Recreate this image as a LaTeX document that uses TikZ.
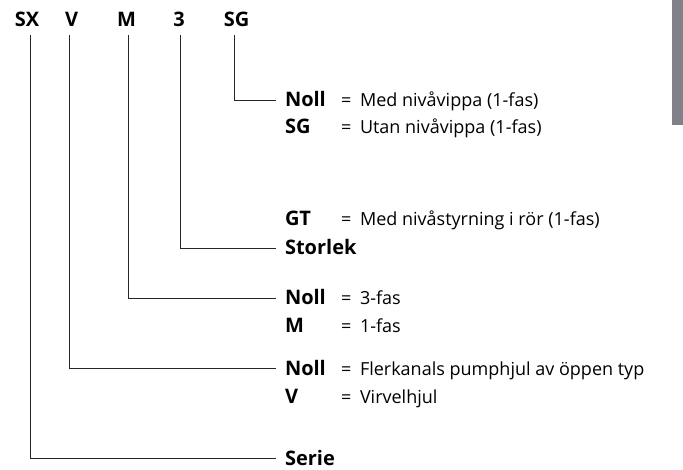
\documentclass[tikz,border=0pt]{standalone}
\usepackage{fontspec}
\setmainfont{Open Sans}
\begin{document}
\begin{tikzpicture}[x=1pt,y=-1pt,
  every node/.style={inner sep=0pt, outer sep=0pt, font=\fontsize{18}{20}\selectfont, text=black},
  code/.style={anchor=base west, font=\fontsize{20}{22}\selectfont\bfseries, text height=14pt, text depth=0pt},
  top/.style={anchor=base, font=\fontsize{20}{22}\selectfont\bfseries, text height=14pt, text depth=0pt},
  eq/.style={anchor=base west},
  desc/.style={anchor=base west},
  conn/.style={draw=black!85, line width=0.9pt}]
\useasboundingbox (0,0) rectangle (683,470);
\fill[fill={rgb,255:red,128;green,129;blue,137}] (672,0) rectangle (683,125);
% top labels
\node[top] (sx) at (27,27) {SX};
\node[top] (v) at (71.5,27) {V};
\node[top] (m) at (126.5,27) {M};
\node[top] (three) at (179,27) {3};
\node[top] (sg) at (236.5,27) {SG};
\coordinate (sxtop) at (30,35);
\coordinate (vtop) at (69,35);
\coordinate (mtop) at (128,35);
\coordinate (threetop) at (180,35);
\coordinate (sgtop) at (234,35);
% entries
\node[code] (noll1) at (285,107) {Noll};
\node[eq] (e1) at (341,107) {=};
\node[desc] (d1) at (360,107) {Med nivåvippa (1-fas)};
\node[code] (sgc) at (285,134) {SG};
\node[eq] (e2) at (341,134) {=};
\node[desc] (d2) at (360,134) {Utan nivåvippa (1-fas)};
\node[code] (gt) at (285,226) {GT};
\node[eq] (e3) at (341,226) {=};
\node[desc] (d3) at (360,226) {Med nivåstyrning i rör (1-fas)};
\node[code] (storlek) at (285,255) {Storlek};
\node[code] (noll2) at (285,305) {Noll};
\node[eq] (e4) at (341,305) {=};
\node[desc] (d4) at (360,305) {3-fas};
\node[code] (mc) at (285,333) {M};
\node[eq] (e5) at (341,333) {=};
\node[desc] (d5) at (360,333) {1-fas};
\node[code] (noll3) at (285,375) {Noll};
\node[eq] (e6) at (341,375) {=};
\node[desc] (d6) at (360,375) {Flerkanals pumphjul av öppen typ};
\node[code] (vc) at (285,403) {V};
\node[eq] (e7) at (341,403) {=};
\node[desc] (d7) at (360,403) {Virvelhjul};
\node[code] (serie) at (285,465.5) {Serie};
% connectors
\draw[conn] (sgtop) |- ([xshift=-9pt]noll1.west);
\draw[conn] (threetop) |- ([xshift=-9pt]storlek.west);
\draw[conn] (mtop) |- ([xshift=-9pt]noll2.west);
\draw[conn] (vtop) |- ([xshift=-9pt]noll3.west);
\draw[conn] (sxtop) |- ([xshift=-9pt]serie.west);
\end{tikzpicture}
\end{document}
